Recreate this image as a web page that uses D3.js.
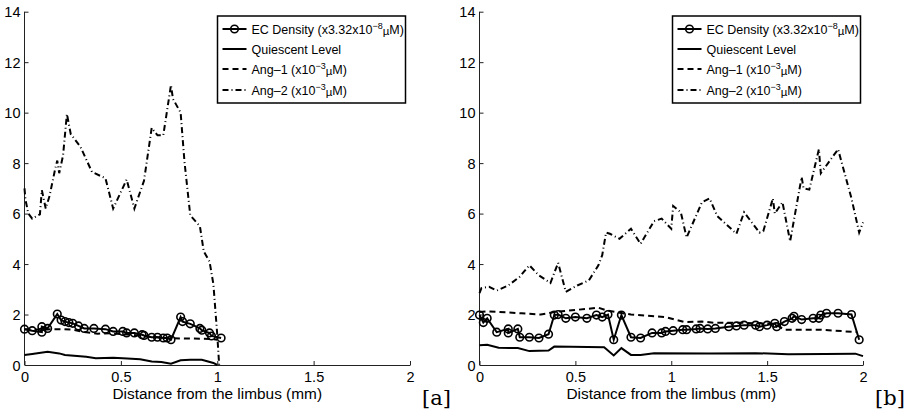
<!DOCTYPE html>
<html>
<head>
<meta charset="utf-8">
<script src="https://cdn.jsdelivr.net/npm/d3@7"></script>
<style>
    body { margin: 0; background: #fff; }
    svg { display: block; font-family: "Liberation Sans", Arial, sans-serif; }
</style>
</head>
<body>
<div id="chart"></div>
<script>
// Two-panel profile plot: EC density, quiescent level, Ang-1, Ang-2 vs distance

// Panel [a] data
const aEcX = [0, 0.04, 0.09, 0.09, 0.12, 0.17, 0.19, 0.21, 0.23, 0.25, 0.28, 0.31, 0.36, 0.42, 0.46, 0.51, 0.53, 0.57, 0.61, 0.62, 0.66, 0.69, 0.72, 0.74, 0.76, 0.81, 0.82, 0.86, 0.91, 0.92, 0.96, 0.97, 1.02];
const aEcY = [1.42, 1.36, 1.3, 1.52, 1.45, 2.02, 1.78, 1.72, 1.68, 1.65, 1.55, 1.45, 1.45, 1.42, 1.33, 1.33, 1.27, 1.27, 1.2, 1.17, 1.1, 1.1, 1.07, 1.07, 1.0, 1.9, 1.72, 1.63, 1.45, 1.38, 1.27, 1.15, 1.07];
const aQuiX = [0, 0.04, 0.12, 0.18, 0.21, 0.32, 0.37, 0.46, 0.51, 0.6, 0.66, 0.71, 0.76, 0.81, 0.86, 0.92, 0.98, 1.0];
const aQuiY = [0.4, 0.44, 0.52, 0.46, 0.4, 0.33, 0.27, 0.29, 0.27, 0.23, 0.14, 0.12, 0.05, 0.19, 0.21, 0.21, 0.08, 0];
const aAng1X = [0, 0.1, 0.15, 0.2, 0.25, 0.3, 0.38, 0.45, 0.55, 0.65, 0.76, 0.85, 0.97, 1.0];
const aAng1Y = [1.42, 1.4, 1.42, 1.42, 1.4, 1.32, 1.24, 1.26, 1.2, 1.12, 1.06, 1.05, 1.03, 1.0];
const aAng2X = [0, 0.005, 0.02, 0.04, 0.08, 0.09, 0.11, 0.13, 0.16, 0.17, 0.18, 0.2, 0.22, 0.24, 0.29, 0.35, 0.42, 0.46, 0.53, 0.57, 0.62, 0.66, 0.69, 0.72, 0.76, 0.77, 0.81, 0.83, 0.86, 0.91, 0.93, 0.96, 0.98, 1.0, 1.01];
const aAng2Y = [7.0, 6.55, 6.0, 5.8, 5.97, 6.93, 6.2, 6.7, 7.8, 8.1, 7.6, 8.3, 9.95, 9.15, 8.65, 7.65, 7.4, 6.2, 7.35, 6.2, 7.3, 9.4, 9.1, 9.1, 11.1, 10.55, 10.0, 8.05, 5.93, 5.5, 4.5, 4.1, 3.2, 1.2, 0];

// Panel [b] data
const bEcX = [0, 0.02, 0.04, 0.09, 0.15, 0.15, 0.2, 0.21, 0.26, 0.31, 0.36, 0.39, 0.41, 0.45, 0.5, 0.56, 0.61, 0.64, 0.67, 0.7, 0.74, 0.79, 0.84, 0.9, 0.95, 0.97, 1.01, 1.06, 1.08, 1.13, 1.15, 1.19, 1.23, 1.3, 1.34, 1.38, 1.44, 1.46, 1.5, 1.54, 1.55, 1.59, 1.63, 1.64, 1.68, 1.74, 1.77, 1.78, 1.81, 1.87, 1.94, 1.98];
const bEcY = [1.98, 1.68, 1.85, 1.3, 1.43, 1.27, 1.43, 1.1, 1.1, 1.07, 1.22, 1.98, 2.0, 1.85, 1.9, 1.85, 1.98, 1.9, 2.0, 1.0, 1.98, 1.1, 1.07, 1.27, 1.27, 1.33, 1.36, 1.4, 1.4, 1.43, 1.45, 1.43, 1.45, 1.52, 1.55, 1.58, 1.58, 1.52, 1.58, 1.65, 1.52, 1.72, 1.85, 1.93, 1.8, 1.85, 1.85, 1.98, 2.05, 2.05, 2.0, 1.0];
const bQuiX = [0, 0.04, 0.1, 0.2, 0.26, 0.36, 0.39, 0.65, 0.7, 0.74, 0.79, 0.84, 0.91, 1.2, 1.44, 1.61, 1.8, 1.96, 2.0];
const bQuiY = [0.78, 0.8, 0.68, 0.67, 0.55, 0.57, 0.73, 0.7, 0.38, 0.67, 0.4, 0.4, 0.47, 0.46, 0.47, 0.43, 0.44, 0.45, 0.35];
const bAng1X = [0, 0.04, 0.22, 0.32, 0.39, 0.5, 0.62, 0.67, 0.79, 0.97, 1.07, 1.16, 1.23, 1.38, 1.54, 1.59, 1.78, 1.97];
const bAng1Y = [2.1, 2.13, 2.05, 2.0, 2.1, 2.18, 2.27, 2.15, 2.0, 1.9, 1.7, 1.72, 1.67, 1.67, 1.63, 1.4, 1.4, 1.3];
const bAng2X = [0, 0.01, 0.05, 0.09, 0.15, 0.21, 0.26, 0.31, 0.37, 0.41, 0.45, 0.51, 0.57, 0.62, 0.64, 0.66, 0.68, 0.73, 0.79, 0.84, 0.91, 0.95, 1.0, 1.01, 1.05, 1.08, 1.16, 1.2, 1.24, 1.34, 1.38, 1.46, 1.48, 1.53, 1.54, 1.58, 1.62, 1.68, 1.69, 1.72, 1.77, 1.78, 1.87, 1.94, 1.98, 2.0];
const bAng2Y = [2.85, 3.05, 3.1, 2.95, 3.15, 3.5, 3.95, 3.55, 3.25, 4.05, 2.9, 3.15, 3.35, 3.95, 4.35, 5.25, 5.2, 5.0, 5.4, 4.8, 5.7, 5.8, 5.4, 6.3, 6.05, 5.05, 6.45, 6.6, 5.9, 5.2, 6.05, 5.25, 5.3, 6.6, 6.0, 6.45, 4.9, 7.45, 7.0, 6.95, 8.55, 7.6, 8.55, 6.6, 5.25, 5.65];

// Axis ticks and labels
const xTicks = [0, 0.5, 1, 1.5, 2];
const yTicks = [0, 2, 4, 6, 8, 10, 12, 14];
const xLabel = 'Distance from the limbus (mm)';
const panelTags = ['[a]', '[b]'];

const width = 906;
const height = 413;

const svg = d3.select('#chart')
    .append('svg')
    .attr('width', width)
    .attr('height', height);

const y = d3.scaleLinear().domain([0, 14]).range([365, 11.7]);

const line = d3.line();

const zip = (xs, ys) => xs.map((v, i) => [v, ys[i]]);

function drawPanel(left, right, data, tag) {
    const x = d3.scaleLinear().domain([0, 2]).range([left, right]);
    const g = svg.append('g');

    const pts = (xs, ys) => zip(xs, ys).map(p => [x(p[0]), y(p[1])]);

    // Axes (box off, ticks inside)
    const xAxis = d3.axisBottom(x).tickValues(xTicks).tickFormat(d3.format('')).tickSizeInner(-4).tickSizeOuter(0).tickPadding(8);
    const yAxis = d3.axisLeft(y).tickValues(yTicks).tickSizeInner(-4).tickSizeOuter(0).tickPadding(4);

    const gx = g.append('g').attr('transform', `translate(0,${y(0)})`).call(xAxis);
    const gy = g.append('g').attr('transform', `translate(${left},0)`).call(yAxis);
    [gx, gy].forEach(a => {
        a.attr('font-size', null).attr('font-family', null);
        a.select('.domain').attr('stroke', '#222').attr('stroke-width', 1);
        a.selectAll('.tick line').attr('stroke', '#222');
        a.selectAll('text').style('font-size', '14.5px').attr('fill', '#000');
    });
    gx.selectAll('text').attr('dy', '0.62em');
    gy.selectAll('text').attr('dy', '0.36em');
    gy.select('.domain').attr('d', `M0,${y(0)}V${y(14)}`);

    // Quiescent level
    g.append('path').attr('d', line(pts(data.quiX, data.quiY)))
        .attr('fill', 'none').attr('stroke', '#000').attr('stroke-width', 2);

    // Ang-1 dashed
    g.append('path').attr('d', line(pts(data.ang1X, data.ang1Y)))
        .attr('fill', 'none').attr('stroke', '#000').attr('stroke-width', 2)
        .attr('stroke-dasharray', '6,4');

    // Ang-2 dash-dot
    g.append('path').attr('d', line(pts(data.ang2X, data.ang2Y)))
        .attr('fill', 'none').attr('stroke', '#000').attr('stroke-width', 2)
        .attr('stroke-dasharray', '6,3,1,3');

    // EC density with circle markers
    const ec = pts(data.ecX, data.ecY);
    g.append('path').attr('d', line(ec))
        .attr('fill', 'none').attr('stroke', '#000').attr('stroke-width', 2);
    g.selectAll('circle.ec').data(ec).enter().append('circle')
        .attr('class', 'ec')
        .attr('cx', d => d[0]).attr('cy', d => d[1]).attr('r', 3.8)
        .attr('fill', 'none').attr('stroke', '#000').attr('stroke-width', 1.6);

    // X axis label
    g.append('text')
        .attr('x', (left + right) / 2).attr('y', 399)
        .attr('text-anchor', 'middle').style('font-size', '15.4px')
        .text(xLabel);

    // Panel tag
    g.append('text')
        .attr('x', right + 12).attr('y', 405)
        .attr('font-family', '"DejaVu Serif", "Liberation Serif", serif')
        .style('font-size', '21px')
        .text(tag);

    drawLegend(g, left + 193, 16);
}

function drawLegend(g, lx, ly) {
    const lg = g.append('g').attr('transform', `translate(${lx},${ly})`);
    lg.append('rect').attr('width', 188).attr('height', 87)
        .attr('fill', '#fff').attr('stroke', '#000').attr('stroke-width', 1.5);

    const rows = [
        { label: 'EC Density (x3.32x10', exp: '\u22128', tail: 'M)', dash: null, marker: true },
        { label: 'Quiescent Level', exp: null, tail: '', dash: null, marker: false },
        { label: 'Ang\u20131 (x10', exp: '\u22123', tail: 'M)', dash: '6,4', marker: false },
        { label: 'Ang\u20132 (x10', exp: '\u22123', tail: 'M)', dash: '6,3,1,3', marker: false }
    ];
    const rowY = [13, 33, 53, 74];

    rows.forEach((r, i) => {
        const cy = rowY[i];
        const ln = lg.append('line').attr('x1', 5).attr('x2', 29).attr('y1', cy).attr('y2', cy)
            .attr('stroke', '#000').attr('stroke-width', 2);
        if (r.dash) ln.attr('stroke-dasharray', r.dash);
        if (r.marker) {
            lg.append('circle').attr('cx', 17).attr('cy', cy).attr('r', 3.8)
                .attr('fill', 'none').attr('stroke', '#000').attr('stroke-width', 1.6);
        }
        const t = lg.append('text').attr('x', 34).attr('y', cy + 4.5).style('font-size', '12.5px');
        t.append('tspan').text(r.label);
        if (r.exp) {
            t.append('tspan').attr('dy', -5).style('font-size', '9px').text(r.exp);
            t.append('tspan').attr('dy', 6).style('font-size', '11.5px').text('\u00b5');
            t.append('tspan').attr('dy', -1).text(r.tail);
        }
    });
}

drawPanel(24.5, 410, {
    ecX: aEcX, ecY: aEcY, quiX: aQuiX, quiY: aQuiY,
    ang1X: aAng1X, ang1Y: aAng1Y, ang2X: aAng2X, ang2Y: aAng2Y
}, panelTags[0]);

drawPanel(479.5, 863, {
    ecX: bEcX, ecY: bEcY, quiX: bQuiX, quiY: bQuiY,
    ang1X: bAng1X, ang1Y: bAng1Y, ang2X: bAng2X, ang2Y: bAng2Y
}, panelTags[1]);
</script>
</body>
</html>
